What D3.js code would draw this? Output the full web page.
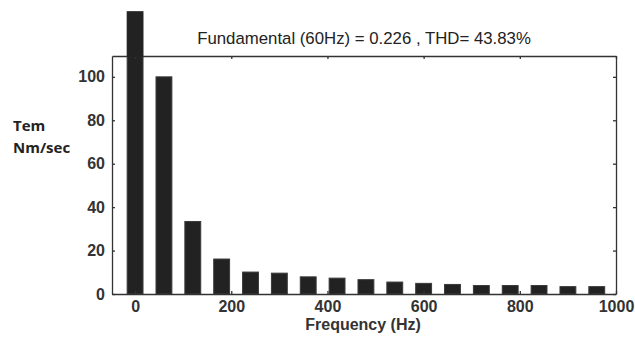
<!DOCTYPE html>
<html>
<head>
<meta charset="utf-8">
<script src="https://d3js.org/d3.v7.min.js"></script>
<style>
  body { margin: 0; background: #fff; }
  .axis text { font-family: "Liberation Sans", Arial, sans-serif; font-size: 16px; font-weight: bold; fill: #333; }
  .axis path, .axis line { stroke: #333; stroke-width: 1.3px; }
</style>
</head>
<body>
<div id="chart-area"></div>
<script>
// harmonic spectrum of the torque
var freqs = [0, 60, 120, 180, 240, 300, 360, 420, 480, 540, 600, 660, 720, 780, 840, 900, 960];
var torque = [130, 100, 33.4, 16.1, 10.1, 9.6, 7.9, 7.3, 6.6, 5.5, 4.9, 4.4, 3.9, 3.9, 3.9, 3.4, 3.4];
var xTicks = [0, 200, 400, 600, 800, 1000];
var yTicks = [0, 20, 40, 60, 80, 100];
var titleText = "Fundamental (60Hz) = 0.226 , THD= 43.83%";

var margin = { left:112, right:19, top:56, bottom:46 };

var width = 635 - margin.left - margin.right,
    height = 340 - margin.top - margin.bottom;

var svg = d3.select("#chart-area")
    .append("svg")
        .attr("width", width + margin.left + margin.right)
        .attr("height", height + margin.top + margin.bottom);

var g = svg.append("g")
        .attr("transform", "translate(" + margin.left + ", " + margin.top + ")");

const x = d3.scaleLinear()
  .domain([-48, 1000])
  .range([0, width]);

const y = d3.scaleLinear()
  .domain([0, 109.6])
  .range([height, 0]);

const barW = x(33) - x(0);

// Bars
g.selectAll("rect.bar")
  .data(freqs)
  .enter().append("rect")
    .attr("class", "bar")
    .attr("x", (d) => x(d) - barW / 2)
    .attr("y", (d, i) => y(torque[i]))
    .attr("width", barW)
    .attr("height", (d, i) => height - y(torque[i]))
    .attr("fill", "#222")
    .attr("stroke", "#3a3a3a")
    .attr("stroke-width", 1);

// Axes (ticks point inward, box on)
const xAxisGroup = g.append("g")
  .attr("class", "x axis")
  .attr("transform", "translate(0, " + height + ")")
  .call(d3.axisBottom(x).tickValues(xTicks).tickFormat(d3.format("d"))
    .tickSizeInner(-3).tickSizeOuter(0).tickPadding(7));

const yAxisGroup = g.append("g")
  .attr("class", "y axis")
  .call(d3.axisLeft(y).tickValues(yTicks).tickSizeInner(-3).tickSizeOuter(0).tickPadding(7));

g.append("g")
  .attr("class", "axis")
  .call(d3.axisTop(x).tickValues(xTicks).tickSizeInner(-3).tickSizeOuter(0).tickFormat(""));

g.append("g")
  .attr("class", "axis")
  .attr("transform", "translate(" + width + ", 0)")
  .call(d3.axisRight(y).tickValues(yTicks).tickSizeInner(-3).tickSizeOuter(0).tickFormat(""));

// first bar sticks out above the box, redraw it over the top edge
g.append("rect")
  .attr("x", x(freqs[0]) - barW / 2)
  .attr("y", y(torque[0]))
  .attr("width", barW)
  .attr("height", y(y.domain()[1]) - y(torque[0]) + 1)
  .attr("fill", "#222");

// Title
g.append("text")
    .attr("x", width / 2)
    .attr("y", -12)
    .attr("font-family", "Liberation Sans, Arial, sans-serif")
    .attr("font-size", "16.8px")
    .attr("fill", "#222")
    .attr("text-anchor", "middle")
    .text(titleText);

// X Label
g.append("text")
    .attr("x", x(474))
    .attr("y", height + 36)
    .attr("font-family", "Liberation Sans, Arial, sans-serif")
    .attr("font-size", "16px")
    .attr("font-weight", "bold")
    .attr("fill", "#333")
    .attr("text-anchor", "middle")
    .text("Frequency (Hz)");

// Y Label
svg.append("text")
    .attr("x", 13)
    .attr("y", 131)
    .attr("font-family", "Open Sans, sans-serif")
    .attr("font-size", "15px")
    .attr("font-weight", "bold")
    .attr("fill", "#222")
    .text("Tem");

svg.append("text")
    .attr("x", 13)
    .attr("y", 153)
    .attr("font-family", "Open Sans, sans-serif")
    .attr("font-size", "15px")
    .attr("font-weight", "bold")
    .attr("fill", "#222")
    .text("Nm/sec");
</script>
</body>
</html>
